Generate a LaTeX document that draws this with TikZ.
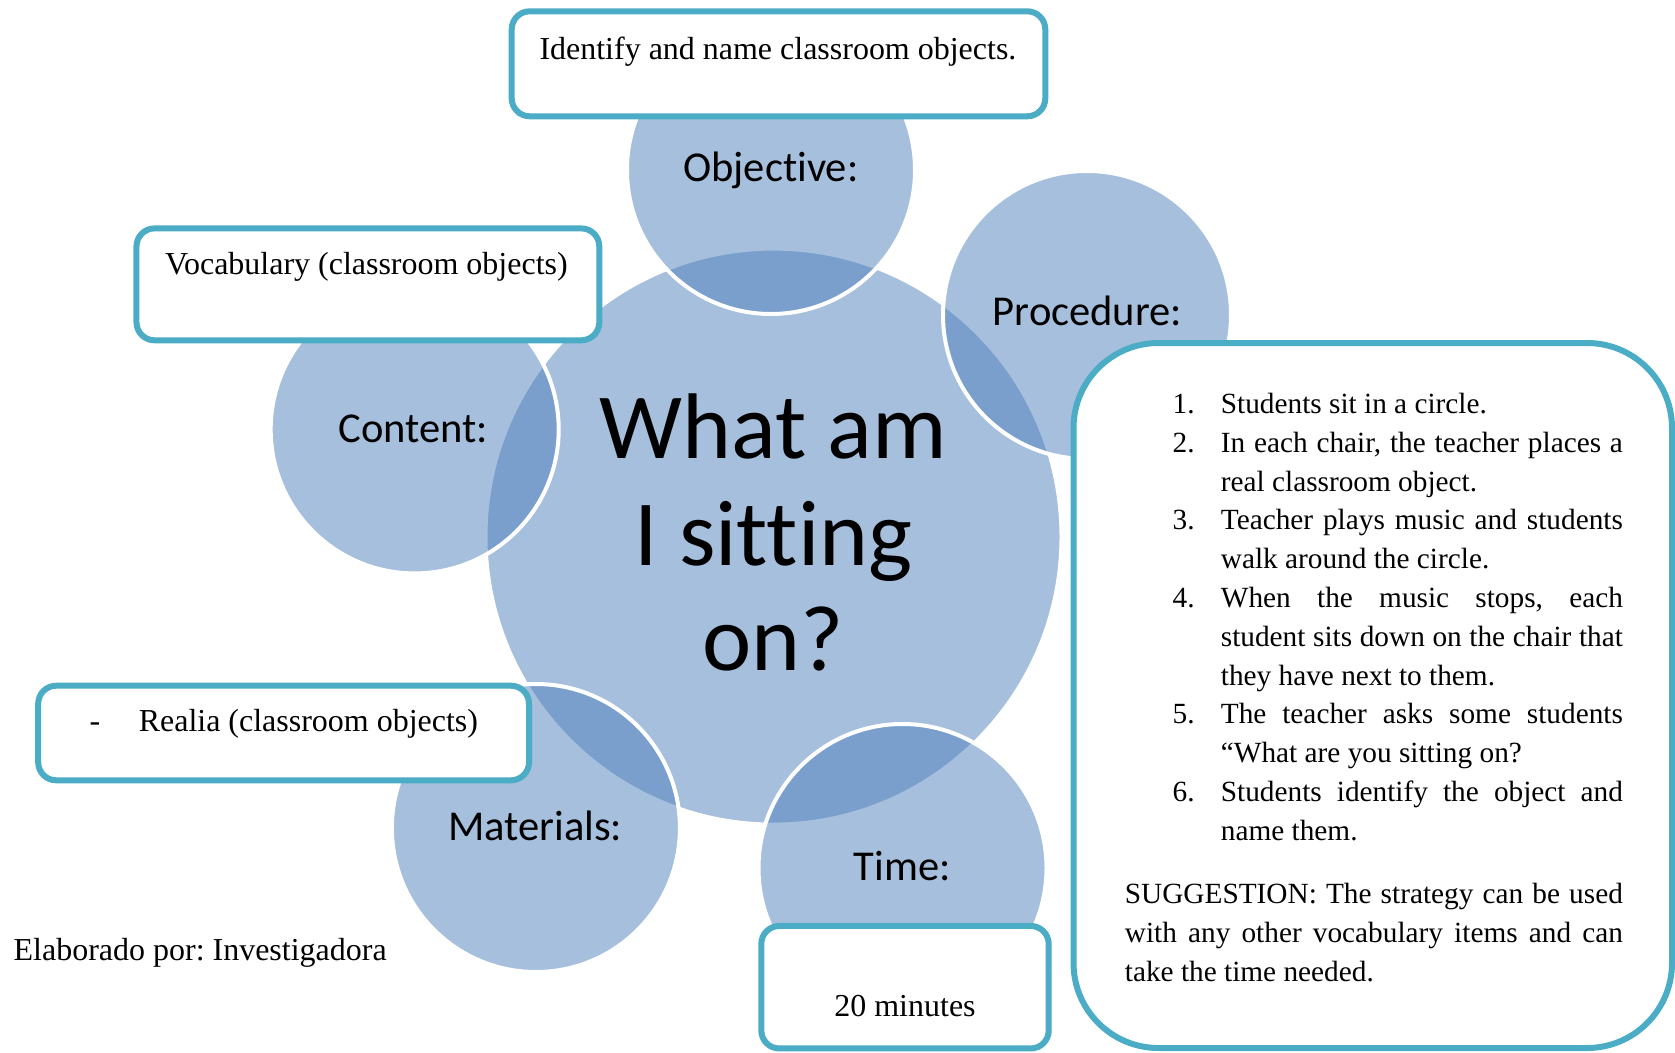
\documentclass[tikz,border=0pt]{standalone}
\usepackage{fontspec}
\setmainfont{Liberation Serif}
\newfontfamily\calibri{Carlito}[Ligatures={NoCommon}]
\frenchspacing
\definecolor{vennblue}{HTML}{4F81BD}
\definecolor{boxteal}{HTML}{4BACC6}
\newcommand\numl[2]{\makebox[48.2bp][l]{#1}#2}
\newcommand\numj[2]{\makebox[48.2bp][l]{#1}\makebox[402bp][s]{#2}}
\newcommand\contj[1]{\makebox[402bp][s]{#1}}
\newcommand\sugj[1]{\makebox[498bp][s]{#1}}
\tikzset{
  venn/.style={circle, fill=vennblue, fill opacity=0.5, draw=white, draw opacity=1,
    line width=4bp, inner sep=0, minimum size=288bp},
  tbox/.style={rectangle, draw=boxteal, line width=6bp, fill=white, rounded corners=18bp, inner sep=0},
  serifbig/.style={font=\fontsize{32.1}{38}\selectfont, inner sep=0},
  seriflist/.style={font=\fontsize{29.4}{38.8}\selectfont, inner sep=0, anchor=base west},
  vlabel/.style={font=\calibri\fontsize{42.7}{50}\selectfont, inner sep=0, anchor=base},
  vtitle/.style={font=\calibri\fontsize{93.6}{106}\selectfont, inner sep=0, anchor=base},
}
\begin{document}
\begin{tikzpicture}[x=1bp, y=-1bp]
\useasboundingbox (0,0) rectangle (1675,1052);
\fill[white] (0,0) rectangle (1675,1052);

% circles
\node[venn, minimum size=576bp] (main) at (773.5,536.6) {};
\node[venn] (obj) at (771,170) {};
\node[venn] (proc) at (1087,315) {};
\node[venn] (cont) at (414.7,429.4) {};
\node[venn] (mat) at (535.9,828) {};
\node[venn] (time) at (902.5,868) {};

% boxes
\node[tbox, minimum width=533.6bp, minimum height=105bp] (objbox) at (778.5,63.8) {};
\node[tbox, minimum width=462.8bp, minimum height=111.9bp] (vocbox) at (367.9,284.35) {};
\node[tbox, minimum width=490.8bp, minimum height=94.6bp] (realbox) at (283.6,733) {};
\node[tbox, minimum width=287.4bp, minimum height=122.5bp] (timebox) at (905,987.2) {};
\node[tbox, rounded corners=85bp, minimum width=598.5bp, minimum height=705bp] (procbox) at (1372.75,695.5) {};

% circle texts
\node[vtitle] (t1) at (773.5,458.3) {What am};
\node[vtitle] (t2) at (773.5,565) {I sitting};
\node[vtitle] (t3) at (773.5,670) {on?};
\node[vlabel] (lobj) at (770.8,181.7) {Objective:};
\node[vlabel] (lproc) at (1087.5,325) {Procedure:};
\node[vlabel] (lcont) at (413.3,442.7) {Content:};
\node[vlabel] (lmat) at (535.2,840) {Materials:};
\node[vlabel] (ltime) at (902.5,880.7) {Time:};

% box texts
\node[serifbig, anchor=base west] (objtxt) at (539.3,59.3) {Identify and name classroom objects.};
\node[serifbig, anchor=base] (voctxt) at (366.4,274) {Vocabulary (classroom objects)};
\node[serifbig, anchor=base west] (realtxt) at (89.5,731.7) {\makebox[49.1bp][l]{-}Realia (classroom objects)};
\node[serifbig, anchor=base] (timetxt) at (905,1016.7) {20 minutes};
\node[serifbig, anchor=base west] (credit) at (13.5,960) {Elaborado por: Investigadora};

% procedure list
\node[seriflist] (p1) at (1172.5,413.5) {\numl{1.}{Students sit in a circle.}};
\node[seriflist] (p2) at (1172.5,452.3) {\numj{2.}{In each chair, the teacher places a}};
\node[seriflist] (p3) at (1220.7,491.1) {real classroom object.};
\node[seriflist] (p4) at (1172.5,529.9) {\numj{3.}{Teacher plays music and students}};
\node[seriflist] (p5) at (1220.7,568.7) {walk around the circle.};
\node[seriflist] (p6) at (1172.5,607.5) {\numj{4.}{When the music stops, each}};
\node[seriflist] (p7) at (1220.7,646.3) {\contj{student sits down on the chair that}};
\node[seriflist] (p8) at (1220.7,685.1) {they have next to them.};
\node[seriflist] (p9) at (1172.5,723.9) {\numj{5.}{The teacher asks some students}};
\node[seriflist] (p10) at (1220.7,762.7) {“What are you sitting on?};
\node[seriflist] (p11) at (1172.5,801.5) {\numj{6.}{Students identify the object and}};
\node[seriflist] (p12) at (1220.7,840.3) {name them.};
\node[seriflist] (s1) at (1124.7,903) {\sugj{SUGGESTION: The strategy can be used}};
\node[seriflist] (s2) at (1124.7,942) {\sugj{with any other vocabulary items and can}};
\node[seriflist] (s3) at (1124.7,981) {take the time needed.};
\end{tikzpicture}
\end{document}
